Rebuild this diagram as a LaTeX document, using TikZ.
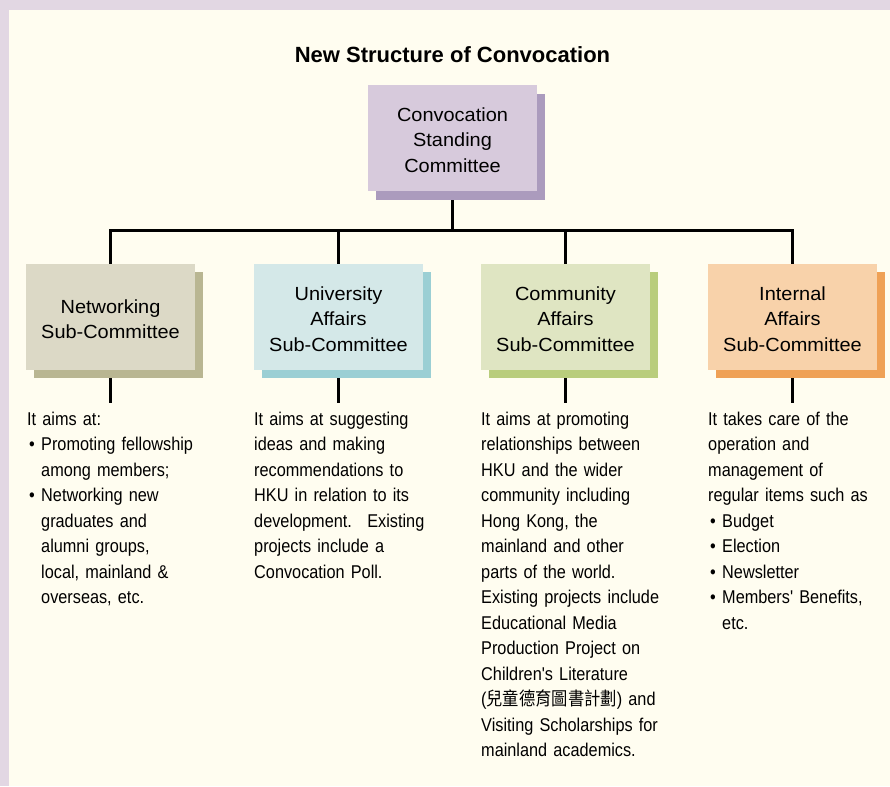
\documentclass[tikz,border=0pt]{standalone}
\usepackage{fontspec}
\setmainfont{Liberation Sans}
\newfontfamily\bodyfont[FakeStretch=0.88]{Liberation Sans}
\newfontfamily\boxfont[FakeStretch=1.05]{Liberation Sans}
\newfontfamily\cjk[FakeStretch=0.88]{Noto Sans CJK TC}
\usetikzlibrary{shadows}
\pgfdeclarelayer{bgzero}
\pgfdeclarelayer{connlayer}
\pgfsetlayers{bgzero,connlayer,main}
\definecolor{lav}{HTML}{E2D7E3}
\definecolor{cream}{HTML}{FFFDF0}
\definecolor{topfill}{HTML}{D7CADC}
\definecolor{topshad}{HTML}{AB9BBD}
\definecolor{netfill}{HTML}{DCD9C6}
\definecolor{netshad}{HTML}{B9B692}
\definecolor{unifill}{HTML}{D4E8E8}
\definecolor{unishad}{HTML}{9BCFD4}
\definecolor{comfill}{HTML}{DFE5C2}
\definecolor{comshad}{HTML}{B9CD7C}
\definecolor{intfill}{HTML}{F8D2AA}
\definecolor{intshad}{HTML}{EFA156}
\tikzset{
  orgbox/.style={rectangle, minimum width=169pt, minimum height=106pt, inner sep=0pt,
    align=center, font=\boxfont\fontsize{19pt}{25.5pt}\selectfont},
  desc/.style={anchor=north west, inner sep=0pt, text width=230pt, align=left,
    font=\bodyfont\fontsize{18.5pt}{25.5pt}\selectfont},
  conn/.style={line width=3pt, black},
  title/.style={font=\bfseries\fontsize{22pt}{26pt}\selectfont, inner sep=0pt}
}
\newcommand{\bul}{\hspace*{2pt}\makebox[12pt][l]{•}}
\newcommand{\cont}{\hspace*{14pt}}
\begin{document}
\begin{tikzpicture}[x=1pt,y=-1pt]
\useasboundingbox (0,0) rectangle (890,786);
\begin{pgfonlayer}{bgzero}
\fill[lav] (0,0) rectangle (890,786);
\fill[cream] (9,10) rectangle (890,786);
\end{pgfonlayer}

\node[title, anchor=base] (title) at (452.5,63) {New Structure of Convocation};

% boxes
\node[orgbox, fill=topfill, drop shadow={shadow xshift=8pt, shadow yshift=-9pt, fill=topshad, opacity=1}] (top) at (452.5,138) {\strut Convocation\\ Standing\\ Committee};
\node[orgbox, fill=netfill, drop shadow={shadow xshift=8pt, shadow yshift=-8pt, fill=netshad, opacity=1}] (net) at (110.5,317) {\strut Networking\\ Sub-Committee};
\node[orgbox, fill=unifill, drop shadow={shadow xshift=8pt, shadow yshift=-8pt, fill=unishad, opacity=1}] (uni) at (338.5,317) {\strut University\\ Affairs\\ Sub-Committee};
\node[orgbox, fill=comfill, drop shadow={shadow xshift=8pt, shadow yshift=-8pt, fill=comshad, opacity=1}] (com) at (565.5,317) {\strut Community\\ Affairs\\ Sub-Committee};
\node[orgbox, fill=intfill, drop shadow={shadow xshift=8pt, shadow yshift=-8pt, fill=intshad, opacity=1}] (int) at (792.5,317) {\strut Internal\\ Affairs\\ Sub-Committee};

% descriptions
\node[desc] (netd) at (27,407) {\strut It aims at:\\
\bul Promoting fellowship\\
\cont among members;\\
\bul Networking new\\
\cont graduates and\\
\cont alumni groups,\\
\cont local, mainland \&\\
\cont overseas, etc.};
\node[desc] (unid) at (254,407) {\strut It aims at suggesting\\
ideas and making\\
recommendations to\\
HKU in relation to its\\
development.~ Existing\\
projects include a\\
Convocation Poll.};
\node[desc] (comd) at (481,407) {\strut It aims at promoting\\
relationships between\\
HKU and the wider\\
community including\\
Hong Kong, the\\
mainland and other\\
parts of the world.\\
Existing projects include\\
Educational Media\\
Production Project on\\
Children's Literature\\
({\cjk 兒童德育圖書計劃}) and\\
Visiting Scholarships for\\
mainland academics.};
\node[desc] (intd) at (708,407) {\strut It takes care of the\\
operation and\\
management of\\
regular items such as\\
\bul Budget\\
\bul Election\\
\bul Newsletter\\
\bul Members' Benefits,\\
\cont etc.};

% connectors (behind boxes)
\coordinate (bus) at (452.5,230);
\coordinate (busl) at (110.5,230);
\coordinate (busr) at (792.5,230);
\begin{pgfonlayer}{connlayer}
\draw[conn] (top.south) -- (bus);
\draw[conn, line cap=rect] (busl) -- (busr);
\draw[conn] (busl) -- (net.north);
\draw[conn] (uni.north |- bus) -- (uni.north);
\draw[conn] (com.north |- bus) -- (com.north);
\draw[conn] (busr) -- (int.north);
\draw[conn] (net.south) -- (net.south |- 0,403);
\draw[conn] (uni.south) -- (uni.south |- 0,403);
\draw[conn] (com.south) -- (com.south |- 0,403);
\draw[conn] (int.south) -- (int.south |- 0,403);
\end{pgfonlayer}
\end{tikzpicture}
\end{document}
